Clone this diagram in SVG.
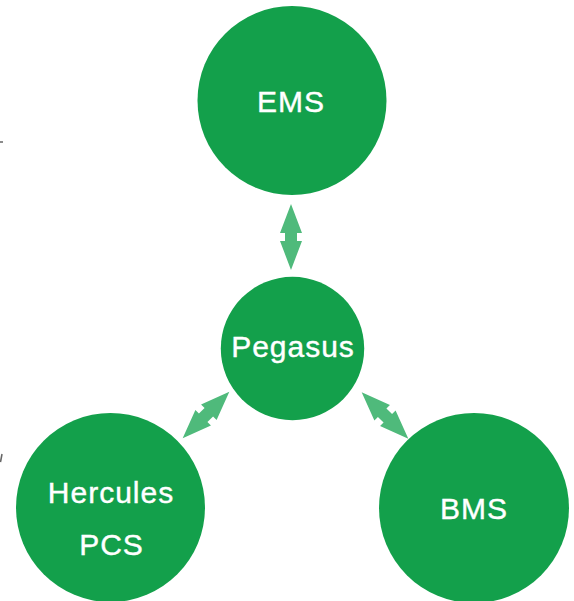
<svg xmlns="http://www.w3.org/2000/svg" width="574" height="601" viewBox="0 0 574 601">
<style>
.node{fill:#13A04B}
.lbl{font-family:"Liberation Sans",Arial,sans-serif;font-size:30px;fill:#ffffff;stroke:#ffffff;stroke-width:0.4;text-anchor:middle;letter-spacing:1px}
.arr{fill:#4FBA7B}
.mark{stroke:#666;stroke-width:1.5;fill:none}
</style>
<defs>
<polygon id="dbl" points="-33,0 -4,-11 -4,-6 4,-6 4,-11 33,0 4,11 4,6 -4,6 -4,11"/>
</defs>
<rect width="574" height="601" fill="#ffffff"/>
<g id="edge-marks">
<path class="mark" d="M0,142 L3,142"/>
<path class="mark" d="M0.5,462 L2,454"/>
</g>
<g id="connectors" class="arr">
<use href="#dbl" transform="translate(291,237) rotate(90)"/>
<use href="#dbl" transform="translate(206,415) rotate(-45)"/>
<use href="#dbl" transform="translate(385,415.5) rotate(45)"/>
</g>
<g id="ems">
<circle class="node" cx="292" cy="100.5" r="94.5"/>
<text class="lbl" x="291" y="112">EMS</text>
</g>
<g id="pegasus">
<circle class="node" cx="292.5" cy="348.5" r="71.7"/>
<text class="lbl" x="293" y="357">Pegasus</text>
</g>
<g id="hercules">
<circle class="node" cx="110.5" cy="507.5" r="94.5"/>
<text class="lbl" x="111" y="503">Hercules</text>
<text class="lbl" x="111.5" y="555">PCS</text>
</g>
<g id="bms">
<circle class="node" cx="474" cy="508" r="95"/>
<text class="lbl" x="474" y="519">BMS</text>
</g>
</svg>
